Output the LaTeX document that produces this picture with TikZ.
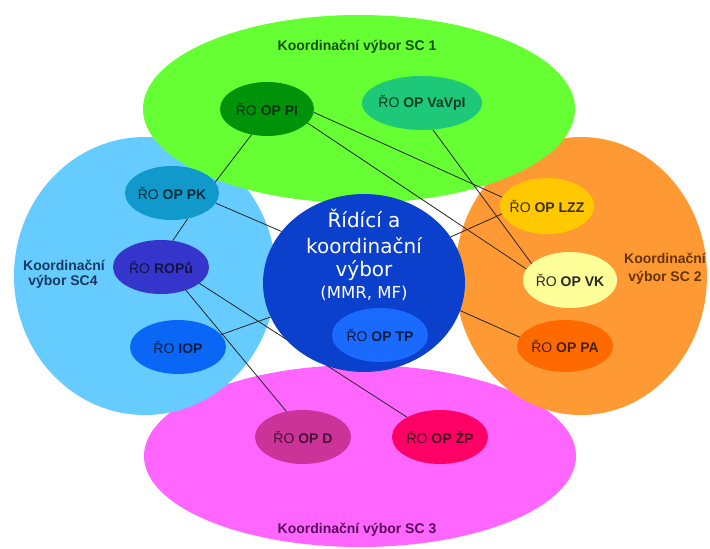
\documentclass[tikz,border=0pt]{standalone}
\usepackage{fontspec}
\setmainfont{Liberation Sans}
\newfontfamily\cfont{DejaVu Sans}
\usetikzlibrary{shapes.geometric}
\pgfdeclarelayer{back}
\pgfdeclarelayer{links}
\pgfsetlayers{back,links,main}
\definecolor{bgGreen}{HTML}{66FF33}
\definecolor{bgBlue}{HTML}{66CCFF}
\definecolor{bgOrange}{HTML}{FF9933}
\definecolor{bgMagenta}{HTML}{FF66FF}
\definecolor{cCentral}{HTML}{0B40CC}
\definecolor{cPI}{HTML}{00930A}
\definecolor{cVaV}{HTML}{1DC878}
\definecolor{cPK}{HTML}{1199CC}
\definecolor{cROP}{HTML}{3535CC}
\definecolor{cIOP}{HTML}{0A66F5}
\definecolor{cLZZ}{HTML}{FFC800}
\definecolor{cVK}{HTML}{FFFF99}
\definecolor{cPA}{HTML}{FF6A00}
\definecolor{cTP}{HTML}{1A6AFF}
\definecolor{cD}{HTML}{CC3399}
\definecolor{cZP}{HTML}{FF0066}
\definecolor{tSCa}{HTML}{174D17}
\definecolor{tSCb}{HTML}{663300}
\definecolor{tSCc}{HTML}{5C0A5C}
\definecolor{tSCd}{HTML}{183860}
\newcommand{\nlab}[1]{\makebox[0pt]{#1}}
\begin{document}
\begin{tikzpicture}[x=1pt,y=-1pt,
  big/.style={ellipse, inner sep=0pt, outer sep=0pt},
  ro/.style={ellipse, inner sep=0pt, outer sep=0pt, minimum width=96pt, minimum height=54pt, font=\fontsize{14}{16}\selectfont},
  link/.style={draw=black!85, line width=0.8pt},
  ttl/.style={font=\fontsize{14}{16}\selectfont\bfseries, anchor=base, inner sep=0pt},
  ctext/.style={font=\cfont\fontsize{20}{22}\selectfont, text=white, anchor=base, inner sep=0pt}]
\useasboundingbox (0,0) rectangle (710,549);
\begin{pgfonlayer}{back}
\node[big, fill=bgMagenta, minimum width=432pt, minimum height=182pt] (sc3) at (360,456) {};
\node[big, fill=bgBlue, minimum width=262pt, minimum height=278pt] (sc4) at (145,276) {};
\node[big, fill=bgOrange, minimum width=252pt, minimum height=278pt] (sc2) at (581,276) {};
\node[big, fill=bgGreen, minimum width=432pt, minimum height=188pt] (sc1) at (359,109) {};
\end{pgfonlayer}
% central committee
\node[big, fill=cCentral, minimum width=202pt, minimum height=178pt] (central) at (364,283) {};
\node[ctext] (ct1) at (364,227) {Řídící a};
\node[ctext] (ct2) at (364,253) {koordinační};
\node[ctext] (ct3) at (364,276) {výbor};
\node[ctext, font=\cfont\fontsize{16.5}{18}\selectfont] (ct4) at (364,298) {(MMR, MF)};
% managing authorities
\node[ro, fill=cTP, text=cTP!25!black] (tp) at (380,335) {\nlab{ŘO \textbf{OP TP}}};
\node[ro, fill=cPI, text=cPI!35!black, minimum width=94pt] (pi) at (267,109) {\nlab{ŘO \textbf{OP PI}}};
\node[ro, fill=cVaV, text=cVaV!30!black, minimum width=120pt] (vav) at (422,103) {\nlab{ŘO \textbf{OP VaVpI}}};
\node[ro, fill=cPK, text=cPK!30!black, minimum width=94pt] (pk) at (172,193) {\nlab{ŘO \textbf{OP PK}}};
\node[ro, fill=cROP, text=cROP!35!black] (rop) at (161,267) {\nlab{ŘO \textbf{ROPů}}};
\node[ro, fill=cIOP, text=cIOP!30!black] (iop) at (178,347) {\nlab{ŘO \textbf{IOP}}};
\node[ro, fill=cLZZ, text=cLZZ!25!black, minimum width=94pt, minimum height=56pt] (lzz) at (547,206) {\nlab{ŘO \textbf{OP LZZ}}};
\node[ro, fill=cVK, text=black!85, minimum width=94pt, minimum height=56pt] (vk) at (570,280) {\nlab{ŘO \textbf{OP VK}}};
\node[ro, fill=cPA, text=cPA!30!black, minimum height=52pt] (pa) at (565,346) {\nlab{ŘO \textbf{OP PA}}};
\node[ro, fill=cD, text=cD!35!black] (d) at (303,437) {\nlab{ŘO \textbf{OP D}}};
\node[ro, fill=cZP, text=cZP!30!black] (zp) at (440,437) {\nlab{ŘO \textbf{OP ŽP}}};
% committee titles
\node[ttl, text=tSCa] (t1) at (357,50) {Koordinační výbor SC 1};
\node[ttl, text=tSCb] (t2a) at (665,263) {Koordinační};
\node[ttl, text=tSCb] (t2b) at (665,281) {výbor SC 2};
\node[ttl, text=tSCc] (t3) at (357,533) {Koordinační výbor SC 3};
\node[ttl, text=tSCd] (t4a) at (64,270) {Koordinační};
\node[ttl, text=tSCd] (t4b) at (63,285) {výbor SC4};
% connectors
\begin{pgfonlayer}{links}
\draw[link] (pi.-121) -- (pk.14);
\draw[link] (pk.-58) -- (rop.66);
\draw[link] (pk.-13) -- (central.148);
\draw[link] (rop.-43) -- (d.123);
\draw[link] (rop.-23) -- (zp.149);
\draw[link] (iop.16) -- (central.-160);
\draw[link] (pi.-4) -- (lzz.169);
\draw[link] (pi.-19) -- (vk.166);
\draw[link] (vav.-68) -- (vk.157);
\draw[link] (central.28) -- (lzz.-170);
\draw[link] (central.-16) -- (pa.169);
\end{pgfonlayer}
\end{tikzpicture}
\end{document}
